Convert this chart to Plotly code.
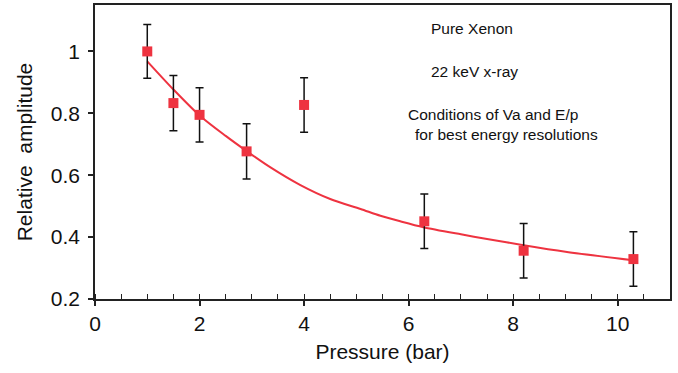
import plotly.graph_objects as go

# Measured data (pressure in bar, relative amplitude)
pressure = [1.0, 1.5, 2.0, 2.9, 4.0, 6.3, 8.2, 10.3]
amplitude = [1.0, 0.833, 0.795, 0.677, 0.827, 0.451, 0.356, 0.329]
amp_error = [0.087, 0.089, 0.088, 0.089, 0.088, 0.088, 0.088, 0.088]

# Fitted curve
fit_x = [1.0, 1.5, 2.0, 2.5, 2.9, 3.35, 3.93, 4.5, 5.08, 5.46, 5.84, 6.28, 7.0, 7.5, 8.2, 9.0, 10.3]
fit_y = [0.968, 0.877, 0.793, 0.727, 0.678, 0.626, 0.568, 0.523, 0.491, 0.469, 0.451, 0.432, 0.409, 0.394, 0.374, 0.353, 0.325]

x_ticks = [0, 2, 4, 6, 8, 10]
y_ticks = [0.2, 0.4, 0.6, 0.8, 1.0]
y_tick_labels = ["0.2", "0.4", "0.6", "0.8", "1"]

notes = ["Pure Xenon", "22 keV x-ray", "Conditions of Va and E/p", "for best energy resolutions"]
note_x = [7.22, 7.26, 7.62, 7.87]
note_y = [1.074, 0.936, 0.797, 0.733]

RED = "#EE3340"
AX = "#222222"
FONT = "Liberation Sans, Arial, Helvetica, sans-serif"

fig = go.Figure()
fig.add_trace(go.Scatter(
    x=fit_x, y=fit_y, mode="lines",
    line=dict(color=RED, width=2, shape="spline", smoothing=0.8),
    hoverinfo="skip", showlegend=False))
fig.add_trace(go.Scatter(
    x=pressure, y=amplitude, mode="markers",
    marker=dict(symbol="square", size=10, color=RED),
    error_y=dict(type="data", array=amp_error, visible=True,
                 color="#111111", thickness=1.5, width=4),
    showlegend=False))

for t, xx, yy in zip(notes, note_x, note_y):
    fig.add_annotation(x=xx, y=yy, xref="x", yref="y", text=t, showarrow=False,
                       font=dict(size=15.5, color="#111111", family=FONT),
                       xanchor="center", yanchor="middle")

fig.update_layout(
    width=678, height=373,
    margin=dict(l=95, r=8, t=3, b=74),
    paper_bgcolor="white", plot_bgcolor="white",
    font=dict(family=FONT, color="#111111", size=21),
    xaxis=dict(
        range=[0, 11], tickvals=x_ticks, ticks="outside", ticklen=5,
        tickwidth=1.5, tickcolor=AX,
        minor=dict(dtick=0.5, ticks="inside", ticklen=5, tickwidth=1.2, tickcolor=AX, showgrid=False),
        showline=True, linecolor=AX, linewidth=1.5, mirror=True,
        showgrid=False, zeroline=False,
        title=dict(text="Pressure (bar)", font=dict(size=21), standoff=10),
        tickfont=dict(size=21),
    ),
    yaxis=dict(
        range=[0.2, 1.15], tickvals=y_ticks, ticktext=y_tick_labels,
        ticks="outside", ticklen=5, tickwidth=1.5, tickcolor=AX,
        ticklabelstandoff=4,
        showline=True, linecolor=AX, linewidth=1.5, mirror=True,
        showgrid=False, zeroline=False,
        title=dict(text="Relative  amplitude", font=dict(size=21), standoff=12),
        tickfont=dict(size=21),
    ),
)

fig.write_html("out.html")
